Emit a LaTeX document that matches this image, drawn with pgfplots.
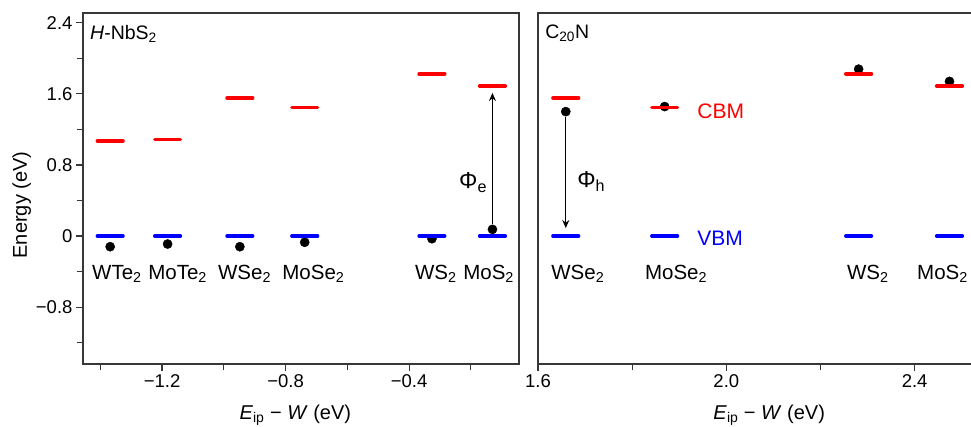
\documentclass[border=0pt]{standalone}
\usepackage{pgfplots}
\pgfplotsset{compat=1.18}
\usepackage{fontspec}
\setmainfont{Liberation Sans}
\usetikzlibrary{arrows.meta}

\definecolor{cbm}{RGB}{255,0,0}
\definecolor{vbm}{RGB}{0,0,255}
\definecolor{frame}{RGB}{55,55,55}

\pgfplotsset{
  common/.style={scale only axis, height=351pt, ymin=-1.44, ymax=2.51,
    axis line style={frame, line width=1.2pt},
    tick style={frame, line width=1.1pt},
    tick align=outside, xtick pos=bottom, ytick pos=left,
    major tick length=7pt, minor tick length=6pt,
    tick label style={font=\fontsize{18.5}{22}\selectfont, text=black},
    label style={font=\fontsize{20}{24}\selectfont},
    clip=false},
  dots/.style={only marks, mark=*, mark size=4.6pt, black},
  cbmline/.style={only marks, mark=-, mark size=12.8pt, cbm, mark options={line width=3.6pt, line cap=round}},
  vbmline/.style={only marks, mark=-, mark size=12.8pt, vbm, mark options={line width=3.6pt, line cap=round}},
}

\begin{document}
\begin{tikzpicture}
\useasboundingbox (0pt,0pt) rectangle (971pt,426pt);

% ---------------- left panel: H-NbS2 ----------------
\begin{axis}[common,
  at={(83pt,62pt)}, anchor=south west, width=436pt,
  xmin=-1.456, xmax=-0.044,
  xtick={-1.2,-0.8,-0.4}, xticklabels={−1.2,−0.8,−0.4},
  minor xtick={-1.4,-1.0,-0.6,-0.2},
  ytick={-0.8,0,0.8,1.6,2.4}, yticklabels={−0.8,0,0.8,1.6,2.4},
  minor ytick={-1.2,-0.4,0.4,1.2,2.0},
  xlabel={\textit{E}\textsubscript{ip} − \textit{W} (eV)},
  xlabel style={at={(axis description cs:0.351,0)}, anchor=base west, yshift=-55pt},
  ylabel={Energy (eV)},
  ylabel style={at={([xshift=-56pt]axis description cs:0,0.453)}, anchor=base},
]
\addplot[dots] coordinates {(-1.368,-0.12) (-1.182,-0.09) (-0.948,-0.12) (-0.738,-0.07) (-0.326,-0.03) (-0.130,0.075)};
\addplot[cbmline] coordinates {(-1.368,1.07) (-1.182,1.085) (-0.948,1.555) (-0.738,1.446) (-0.326,1.825) (-0.130,1.687)};
\addplot[vbmline] coordinates {(-1.368,0) (-1.182,0) (-0.948,0) (-0.738,0) (-0.326,0) (-0.130,0)};

\draw[-{Stealth[length=8pt,width=7pt]}, line width=1.2pt] (axis cs:-0.130,0.13) -- (axis cs:-0.130,1.61);
\node[anchor=east, inner sep=0pt, font=\fontsize{23}{26}\selectfont] at (axis cs:-0.147,0.6) {Φ\textsubscript{e}};

\node[anchor=north west, inner sep=0pt, font=\fontsize{19.5}{22}\selectfont] at (rel axis cs:0.016,0.966) {\textit{H}-NbS\textsubscript{2}};

\begin{scope}[every node/.style={anchor=north west, inner sep=0pt, font=\fontsize{20.5}{24}\selectfont}]
\node at (axis cs:-1.427,-0.327) {WTe\textsubscript{2}};
\node at (axis cs:-1.245,-0.327) {MoTe\textsubscript{2}};
\node at (axis cs:-1.019,-0.327) {WSe\textsubscript{2}};
\node at (axis cs:-0.811,-0.327) {MoSe\textsubscript{2}};
\node at (axis cs:-0.381,-0.327) {WS\textsubscript{2}};
\node at (axis cs:-0.225,-0.327) {MoS\textsubscript{2}};
\end{scope}
\end{axis}

% ---------------- right panel: C20N ----------------
\begin{axis}[common,
  at={(538pt,62pt)}, anchor=south west, width=442pt,
  xmin=1.6, xmax=2.5388,
  xtick={1.6,2.0,2.4}, xticklabels={1.6,2.0,2.4},
  minor xtick={1.8,2.2},
  ytick=\empty,
  xlabel={\textit{E}\textsubscript{ip} − \textit{W} (eV)},
  xlabel style={at={(axis description cs:0.389,0)}, anchor=base west, yshift=-55pt},
]
\addplot[dots] coordinates {(1.659,1.40) (1.869,1.457) (2.281,1.878) (2.474,1.74)};
\addplot[cbmline] coordinates {(1.659,1.555) (1.869,1.446) (2.281,1.825) (2.474,1.687)};
\addplot[vbmline] coordinates {(1.659,0) (1.869,0) (2.281,0) (2.474,0)};

\draw[-{Stealth[length=8pt,width=7pt]}, line width=1.2pt] (axis cs:1.659,1.34) -- (axis cs:1.659,0.09);
\node[anchor=west, inner sep=0pt, font=\fontsize{23}{26}\selectfont] at (axis cs:1.683,0.61) {Φ\textsubscript{h}};

\node[anchor=west, inner sep=0pt, text=cbm, font=\fontsize{21}{24}\selectfont] at (axis cs:1.938,1.40) {CBM};
\node[anchor=west, inner sep=0pt, text=vbm, font=\fontsize{21}{24}\selectfont] at (axis cs:1.938,-0.02) {VBM};

\node[anchor=north west, inner sep=0pt, font=\fontsize{19.5}{22}\selectfont] at (rel axis cs:0.016,0.966) {C\textsubscript{20}N};

\begin{scope}[every node/.style={anchor=north west, inner sep=0pt, font=\fontsize{20.5}{24}\selectfont}]
\node at (axis cs:1.628,-0.327) {WSe\textsubscript{2}};
\node at (axis cs:1.827,-0.327) {MoSe\textsubscript{2}};
\node at (axis cs:2.256,-0.327) {WS\textsubscript{2}};
\node at (axis cs:2.405,-0.327) {MoS\textsubscript{2}};
\end{scope}
\end{axis}
\end{tikzpicture}
\end{document}
